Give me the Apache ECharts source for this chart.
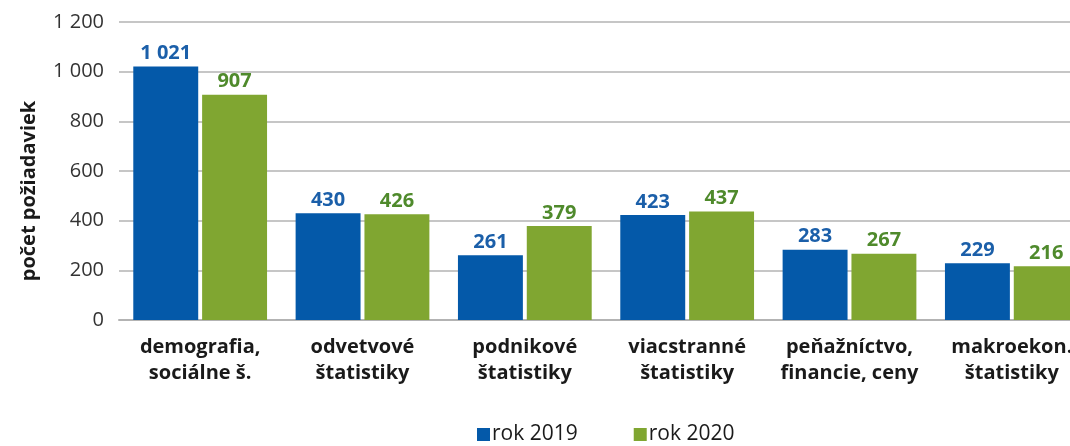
<!DOCTYPE html>
<html><head><meta charset="utf-8">
<script src="https://cdn.jsdelivr.net/npm/echarts@6/dist/echarts.min.js"></script>
<style>html,body{margin:0;padding:0;background:#fff;overflow:hidden;width:1070px;height:446px;}#c{width:1093px;height:446px;}</style>
</head><body><div id="c"></div>
<script>
const categories = ["demografia,\nsociálne š.", "odvetvové\nštatistiky", "podnikové\nštatistiky", "viacstranné\nštatistiky", "peňažníctvo,\nfinancie, ceny", "makroekon.\nštatistiky"];
const seriesNames = ["rok 2019", "rok 2020"];
const values2019 = [1021, 430, 261, 423, 283, 229];
const values2020 = [907, 426, 379, 437, 267, 216];
const yTicks = {min: 0, max: 1200, interval: 200};
const axisTitle = "počet požiadaviek";

const fmt = v => String(v).replace(/\B(?=(\d{3})+(?!\d))/g, ' ');
const FONT = 'Open Sans';
const chart = echarts.init(document.getElementById('c'), null, {renderer: 'canvas'});
chart.setOption({
  animation: false,
  textStyle: {fontFamily: FONT},
  grid: {left: 119, top: 22, right: 0, bottom: 126, containLabel: false},
  legend: {
    bottom: -4, left: 472, itemWidth: 13, itemHeight: 13, itemGap: 56,
    icon: 'rect',
    textStyle: {fontFamily: FONT, fontSize: 21, color: '#1a1a1a', padding: [0,0,0,-3]},
    data: seriesNames
  },
  xAxis: {
    type: 'category', data: categories,
    axisLine: {show: true, lineStyle: {color: '#b3b3b3', width: 2}},
    axisTick: {show: false},
    axisLabel: {fontFamily: FONT, fontSize: 20, fontWeight: 'bold', color: '#1a1a1a', lineHeight: 26, margin: 14, interval: 0}
  },
  yAxis: {
    type: 'value', min: yTicks.min, max: yTicks.max, interval: yTicks.interval,
    name: axisTitle, nameLocation: 'middle', nameGap: 80, nameRotate: 90,
    nameTextStyle: {fontFamily: FONT, fontSize: 20, fontWeight: 'bold', color: '#1a1a1a', padding: [0, 40, 0, 0]},
    axisLine: {show: false}, axisTick: {show: false},
    splitLine: {lineStyle: {color: '#b3b3b3', width: 1.5}},
    axisLabel: {fontFamily: FONT, fontSize: 20, color: '#333', margin: 15, formatter: fmt}
  },
  series: [
    {name: seriesNames[0], type: 'bar', data: values2019, barWidth: '40%', barGap: '6%',
     itemStyle: {color: '#0459a9'},
     label: {show: true, position: 'top', distance: 3, formatter: p => fmt(p.value), fontFamily: FONT, fontSize: 20, fontWeight: 'bold', color: '#1b5fa9'}},
    {name: seriesNames[1], type: 'bar', data: values2020, barWidth: '40%', barGap: '6%',
     itemStyle: {color: '#80a631'},
     label: {show: true, position: 'top', distance: 3, formatter: p => fmt(p.value), fontFamily: FONT, fontSize: 20, fontWeight: 'bold', color: '#4f8a2c'}}
  ]
});
</script></body></html>
